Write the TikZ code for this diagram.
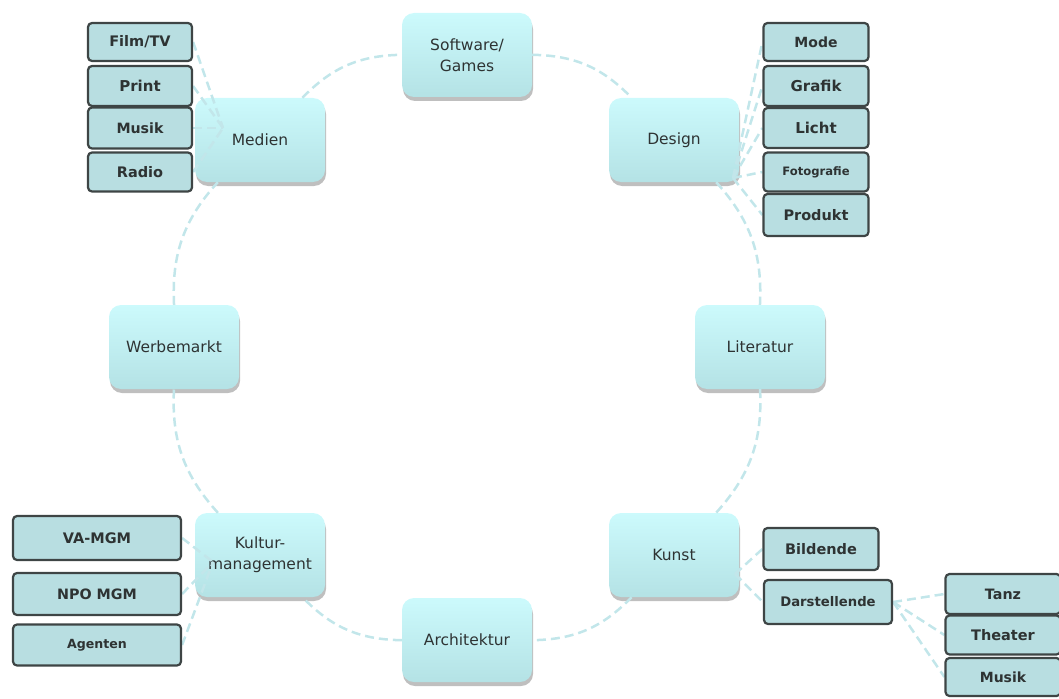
\documentclass[tikz,border=0pt]{standalone}
\usepackage{fontspec}
\setmainfont{DejaVu Sans}
\usetikzlibrary{shadows}
\definecolor{mainA}{HTML}{CCFAFC}
\definecolor{mainB}{HTML}{B4E2E5}
\definecolor{leaf}{HTML}{B8DEE1}
\definecolor{leafline}{HTML}{3E4545}
\definecolor{conn}{HTML}{C2E6EA}
\definecolor{txt}{HTML}{2E3333}
\pgfdeclarelayer{back}
\pgfdeclarelayer{mid}
\pgfsetlayers{back,mid,main}
\newcommand{\lf}[1]{\bfseries\fontsize{#1}{#1}\selectfont}
\begin{document}
\begin{tikzpicture}[x=1pt,y=-1pt,
 mainbox/.style={rounded corners=12pt, minimum width=130pt, minimum height=84pt,
   top color=mainA, bottom color=mainB, draw=none, align=center,
   font=\fontsize{15.5}{21}\selectfont, text=txt,
   drop shadow={shadow xshift=1pt,shadow yshift=-4pt,fill=black!25,opacity=1}},
 leafbox/.style={rounded corners=4pt, draw=leafline, line width=2.2pt, fill=leaf,
   inner sep=0pt, font=\lf{14.5}, text=txt},
 link/.style={draw=conn, line width=2.5pt, dash pattern=on 9pt off 5pt},
 arc/.style={link, bend left=22.5}
]
\useasboundingbox (0,0) rectangle (1059,698);
\begin{pgfonlayer}{back}
\node[mainbox] (soft)   at (467,55)  {Software/\\Games};
\node[mainbox] (design) at (674,140) {Design};
\node[mainbox] (lit)    at (760,347) {Literatur};
\node[mainbox] (kunst)  at (674,555) {Kunst};
\node[mainbox] (arch)   at (467,640) {Architektur};
\node[mainbox] (kult)   at (260,555) {Kultur-\\management};
\node[mainbox] (werbe)  at (174,347) {Werbemarkt};
\node[mainbox] (medien) at (260,140) {Medien};
\end{pgfonlayer}

% leaves
\node[leafbox, minimum width=104pt, minimum height=38pt] (film) at (140,42) {Film/TV};
\node[leafbox, minimum width=104pt, minimum height=40pt, font=\lf{15}] (print) at (140,86) {Print};
\node[leafbox, minimum width=104pt, minimum height=41pt, font=\lf{14.2}] (musik1) at (140,128) {Musik};
\node[leafbox, minimum width=104pt, minimum height=39pt] (radio) at (140,172) {Radio};

\node[leafbox, minimum width=105pt, minimum height=38pt, font=\lf{14}] (mode) at (816,42) {Mode};
\node[leafbox, minimum width=105pt, minimum height=40pt, font=\lf{15}] (grafik) at (816,86) {Grafik};
\node[leafbox, minimum width=105pt, minimum height=40pt, font=\lf{15}] (licht) at (816,128) {Licht};
\node[leafbox, minimum width=105pt, minimum height=39pt, font=\lf{11.6}] (foto) at (816,172) {Fotografie};
\node[leafbox, minimum width=105pt, minimum height=42pt] (produkt) at (816,215) {Produkt};

\node[leafbox, minimum width=168pt, minimum height=44pt] (vamgm) at (97,538) {VA-MGM};
\node[leafbox, minimum width=168pt, minimum height=42pt, font=\lf{14.3}] (npo) at (97,594) {NPO MGM};
\node[leafbox, minimum width=168pt, minimum height=41pt, font=\lf{12.6}] (agenten) at (97,645) {Agenten};

\node[leafbox, minimum width=115pt, minimum height=42pt] (bild) at (821,549) {Bildende};
\node[leafbox, minimum width=128pt, minimum height=44pt, font=\lf{13.2}] (darst) at (828,602) {Darstellende};

\node[leafbox, minimum width=115pt, minimum height=40pt, font=\lf{14.3}] (tanz) at (1003,594) {Tanz};
\node[leafbox, minimum width=115pt, minimum height=39pt] (theater) at (1003,635) {Theater};
\node[leafbox, minimum width=115pt, minimum height=38pt, font=\lf{14}] (musik2) at (1003,677) {Musik};

\coordinate (mhub) at (223,128);
\coordinate (dhub) at (733,178);
\coordinate (khub) at (213,562);
\coordinate (kuhub) at (735,574);

\begin{pgfonlayer}{mid}
% circle
\draw[arc] (soft) to (design);
\draw[arc] (design) to (lit);
\draw[arc] (lit) to (kunst);
\draw[arc] (kunst) to (arch);
\draw[arc] (arch) to (kult);
\draw[arc] (kult) to (werbe);
\draw[arc] (werbe) to (medien);
\draw[arc] (medien) to (soft);
% leaves
\foreach \l in {film,print,musik1,radio} \draw[link] (\l.east) -- (mhub);
\foreach \l in {mode,grafik,licht,foto,produkt} \draw[link] (dhub) -- (\l.west);
\foreach \l in {vamgm,npo,agenten} \draw[link] (\l.east) -- (khub);
\foreach \l in {bild,darst} \draw[link] (kuhub) -- (\l.west);
\foreach \l in {tanz,theater,musik2} \draw[link] (darst.east) -- (\l.west);
\end{pgfonlayer}
\end{tikzpicture}
\end{document}
